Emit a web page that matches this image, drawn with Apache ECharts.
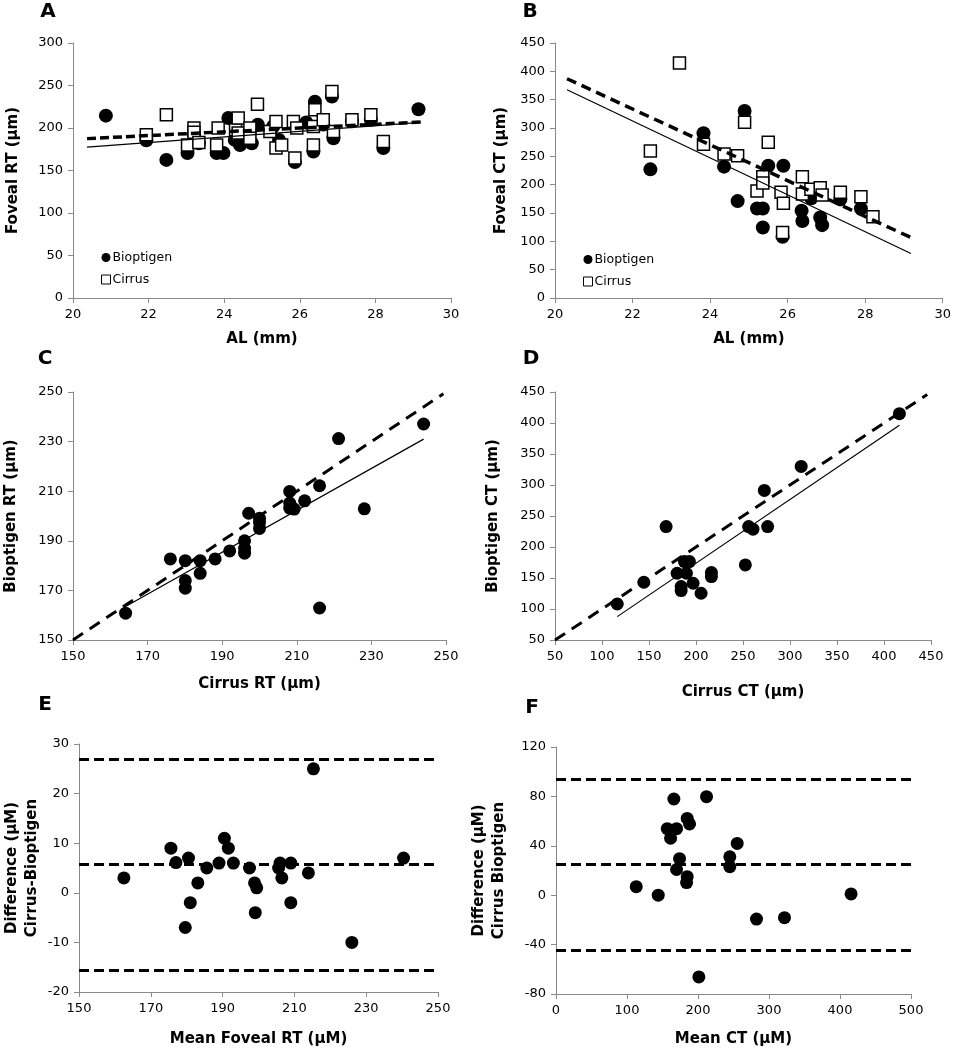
<!DOCTYPE html>
<html><head><meta charset="utf-8">
<script src="https://cdn.jsdelivr.net/npm/echarts@6/dist/echarts.min.js"></script>
<style>html,body{margin:0;padding:0;background:#fff}#c{width:954px;height:1050px}</style>
</head><body><div id="c"></div>
<script>
// ---------- Panel A: Foveal RT vs AL ----------
const aBioptigen = [[20.87,214.5],[21.94,185.5],[22.47,162.5],[23.03,170.6],[23.2,192],[23.33,182],[23.8,170.6],[23.98,170.6],[24.11,211.7],[24.28,186],[24.42,180],[24.73,182],[24.89,203.8],[25.3,202],[25.45,186],[25.87,160],[26.17,206.5],[26.36,172.4],[26.4,231],[26.62,204],[26.85,237],[26.89,188],[27.38,208],[27.88,209.7],[28.21,176.4],[29.14,222]];
const aCirrus = [[21.94,192],[22.47,215.7],[23.03,180],[23.2,200],[23.2,195],[23.33,183],[23.8,180],[23.84,200],[24.3,198],[24.37,211.7],[24.37,194],[24.68,200],[24.68,188],[24.88,228],[25.21,196],[25.37,207.7],[25.37,176.4],[25.52,180],[25.83,207.7],[25.87,164.6],[25.92,200],[26.36,201.8],[26.36,180],[26.4,221.5],[26.62,209.7],[26.85,243],[26.89,196],[27.38,209.7],[27.88,215.6],[28.21,184]];
const aTrendCirrus = [[20.37,187.5],[29.2,207]];
const aTrendBioptigen = [[20.37,177.6],[29.2,206.7]];

// ---------- Panel B: Foveal CT vs AL ----------
const bBioptigen = [[22.46,227],[23.83,290.8],[24.36,231.8],[24.71,171],[24.89,330],[25.21,158],[25.36,158],[25.36,124.4],[25.5,233.5],[25.89,233.5],[25.87,108],[26.36,154],[26.38,136],[26.61,176],[26.84,142],[26.89,128.6],[27.36,174],[27.89,158]];
const bCirrus = [[22.46,259.5],[23.21,414.6],[23.83,271.3],[24.36,254.2],[24.71,251.2],[24.89,310],[25.21,188.7],[25.36,214],[25.36,203],[25.5,274.8],[25.83,186.4],[25.89,167],[25.87,115.6],[26.38,214],[26.38,183.4],[26.6,192],[26.84,194.6],[26.89,181.6],[27.36,186.4],[27.89,178.7],[28.2,143.3]];
const bTrendCirrus = [[20.31,386.9],[29.18,106.7]];
const bTrendBioptigen = [[20.31,367.4],[29.18,78.4]];

// ---------- Panel C: Bioptigen RT vs Cirrus RT ----------
const cPoints = [[164.1,160.8],[176.1,182.7],[180.1,182.0],[180.1,174.0],[180.1,170.9],[184.1,182.0],[184.1,176.9],[188.1,182.7],[192.0,185.9],[196.0,190.0],[196.0,187.0],[196.0,185.0],[197.1,201.1],[200.0,199.1],[200.0,197.4],[200.0,195.0],[208.1,209.9],[208.1,205.2],[208.1,203.2],[209.3,202.8],[212.1,206.1],[216.1,212.2],[216.1,162.9],[221.2,231.2],[228.1,202.9],[244.0,237.1]];
const cIdentity = [[150,150],[249.3,249.3]];
const cFit = [[164.1,163.5],[244.0,231.0]];

// ---------- Panel D: Bioptigen CT vs Cirrus CT ----------
const dPoints = [[116.2,108.1],[144.5,143.1],[168.2,233],[179.9,157.7],[184.2,136.1],[184.2,129.7],[187.7,176.5],[189.8,157.7],[193,176.5],[196.9,141.5],[205.4,125.4],[216.4,158.7],[216.4,152.3],[252.5,171.1],[256,233],[260.6,228.7],[272.7,291.2],[276.2,233],[311.9,330],[416.4,415]];
const dIdentity = [[50,50],[446,446]];
const dFit = [[116.2,87.7],[416.4,396.2]];

// ---------- Panel E: Bland-Altman RT ----------
const ePoints = [[162.5,3.0],[175.6,9.0],[177.0,6.1],[180.5,7.0],[179.6,-7.0],[181.0,-2.0],[183.1,2.0],[185.6,5.0],[189.0,6.0],[190.5,11.0],[191.6,9.0],[193.0,6.0],[197.5,5.0],[198.9,2.0],[199.5,1.0],[199.1,-4.0],[205.6,5.0],[206.0,6.0],[206.5,3.0],[209.0,6.0],[209.0,-2.0],[213.9,4.0],[215.3,25.0],[226.0,-10.0],[240.4,7.0]];
const eLimits = [27.0, 5.7, -15.6];

// ---------- Panel F: Bland-Altman CT ----------
const fPoints = [[113,6.9],[144,0],[156.7,53.9],[161.4,46.1],[166,77.9],[169.8,53.9],[169.8,20.8],[174,29.6],[183.9,10.2],[184.8,15],[184.8,62.2],[188.1,57.7],[201.2,-66.2],[212,79.8],[244.8,31.1],[244.8,23.1],[255.2,41.9],[282.4,-19.3],[321.8,-18.2],[415.6,1.0]];
const fLimits = [93.8, 24.7, -44.4];

// ---------- Axis ranges / labels ----------
const panelLetters = ['A','B','C','D','E','F'];
const xNames = ['AL (mm)','AL (mm)','Cirrus RT (µm)','Cirrus CT (µm)','Mean Foveal RT (µM)','Mean CT (µM)'];
const yNames = ['Foveal RT (µm)','Foveal CT (µm)','Bioptigen RT (µm)','Bioptigen CT (µm)','Difference (µM)\nCirrus-Bioptigen','Difference (µM)\nCirrus Bioptigen'];
const xRanges = [[20,30,2],[20,30,2],[150,250,20],[50,450,50],[150,250,20],[0,500,100]];
const yRanges = [[0,300,50],[0,450,50],[150,250,20],[50,450,50],[-20,30,10],[-80,120,40]];

const FONT = '"DejaVu Sans", "Liberation Sans", Arial, sans-serif';
const GRAY = '#8a8a8a';

const grids = [
  {left:73, top:43, width:378, height:255},
  {left:555, top:43, width:391, height:255},
  {left:69, top:392, width:377, height:248},
  {left:555, top:392, width:376, height:248},
  {left:79, top:744, width:359, height:251},
  {left:556, top:747, width:355, height:247}
];
const xGaps = [31, 31, 34, 42, 37, 35];
const yGaps = [50, 44, 52, 52, 37, 47];
const letterPos = [[48,12],[530,12],[45,359],[531,359],[45,705],[532,708]];

function axisCommon(){
  return {
    type:'value', nameLocation:'middle',
    nameTextStyle:{fontFamily:FONT, fontWeight:'bold', fontSize:15, color:'#000', lineHeight:20},
    axisLine:{show:true, onZero:false, lineStyle:{color:GRAY, width:1}},
    axisTick:{show:true, length:5, inside:false, lineStyle:{color:GRAY, width:1}},
    axisLabel:{fontFamily:FONT, fontSize:13, color:'#000', showMinLabel:true, showMaxLabel:true},
    splitLine:{show:false}
  };
}
const xAxes = xRanges.map((r,i)=>Object.assign(axisCommon(),{
  gridIndex:i, min:r[0], max:r[1], interval:r[2], name:xNames[i], nameGap:xGaps[i],
  axisLabel:Object.assign(axisCommon().axisLabel,{margin:10})
}));
const yAxes = yRanges.map((r,i)=>Object.assign(axisCommon(),{
  gridIndex:i, min:r[0], max:r[1], interval:r[2], name:yNames[i], nameGap:yGaps[i],
  axisLabel:Object.assign(axisCommon().axisLabel,{margin:10})
}));

const circleStyle = {color:'#000', opacity:1};
const squareStyle = {color:'#fff', borderColor:'#000', borderWidth:1.5, opacity:1};

function scatter(name, data, gi, symbol, size, style, extra){
  return Object.assign({type:'scatter', name, data, xAxisIndex:gi, yAxisIndex:gi,
    symbol, symbolSize:size, itemStyle:style, silent:true}, extra||{});
}
function line(name, data, gi, width, dash){
  return {type:'line', name, data, xAxisIndex:gi, yAxisIndex:gi, showSymbol:false, symbol:'none',
    lineStyle:{color:'#000', width, type:dash||'solid'}, silent:true, z:5};
}
function limits(vals){
  return {symbol:'none', silent:true, label:{show:false},
    lineStyle:{color:'#000', width:3, type:[10,5]},
    data: vals.map(v=>({yAxis:v}))};
}

const series = [
  scatter('Bioptigen', aBioptigen, 0, 'circle', 14, circleStyle),
  scatter('Cirrus', aCirrus, 0, 'rect', 12, squareStyle),
  line('Cirrus trend A', aTrendCirrus, 0, 3.5, [9,4]),
  line('Bioptigen trend A', aTrendBioptigen, 0, 1.2),
  scatter('Bioptigen', bBioptigen, 1, 'circle', 14, circleStyle),
  scatter('Cirrus', bCirrus, 1, 'rect', 12, squareStyle),
  line('Cirrus trend B', bTrendCirrus, 1, 3.5, [10,6]),
  line('Bioptigen trend B', bTrendBioptigen, 1, 1.2),
  scatter('RT pairs', cPoints, 2, 'circle', 13, circleStyle),
  line('Identity C', cIdentity, 2, 3, [12,8]),
  line('Fit C', cFit, 2, 1.2),
  scatter('CT pairs', dPoints, 3, 'circle', 13, circleStyle),
  line('Identity D', dIdentity, 3, 3, [12,8]),
  line('Fit D', dFit, 3, 1.2),
  scatter('RT difference', ePoints, 4, 'circle', 13, circleStyle, {markLine:limits(eLimits)}),
  scatter('CT difference', fPoints, 5, 'circle', 13, circleStyle, {markLine:limits(fLimits)})
];

function legend(left, top){
  return {left, top, orient:'vertical', itemWidth:9, itemHeight:9, itemGap:9,
    textStyle:{fontFamily:FONT, fontSize:12.5, color:'#000', padding:[0,0,0,-3]},
    selectedMode:false,
    data:[{name:'Bioptigen', icon:'circle', itemStyle:{color:'#000', opacity:1}},
          {name:'Cirrus', icon:'rect', itemStyle:{color:'#fff', borderColor:'#000', borderWidth:1, opacity:1}}]};
}

const graphic = panelLetters.map((t,i)=>({type:'text', x:letterPos[i][0], y:letterPos[i][1],
  style:{text:t, fontFamily:FONT, fontWeight:'bold', fontSize:20, fill:'#000', align:'center', verticalAlign:'middle'}}));

const chart = echarts.init(document.getElementById('c'), null, {renderer:'canvas'});
chart.setOption({
  animation:false,
  backgroundColor:'#fff',
  grid:grids,
  xAxis:xAxes,
  yAxis:yAxes,
  legend:[legend(96,246), legend(578,248)],
  graphic,
  series
});
</script></body></html>
